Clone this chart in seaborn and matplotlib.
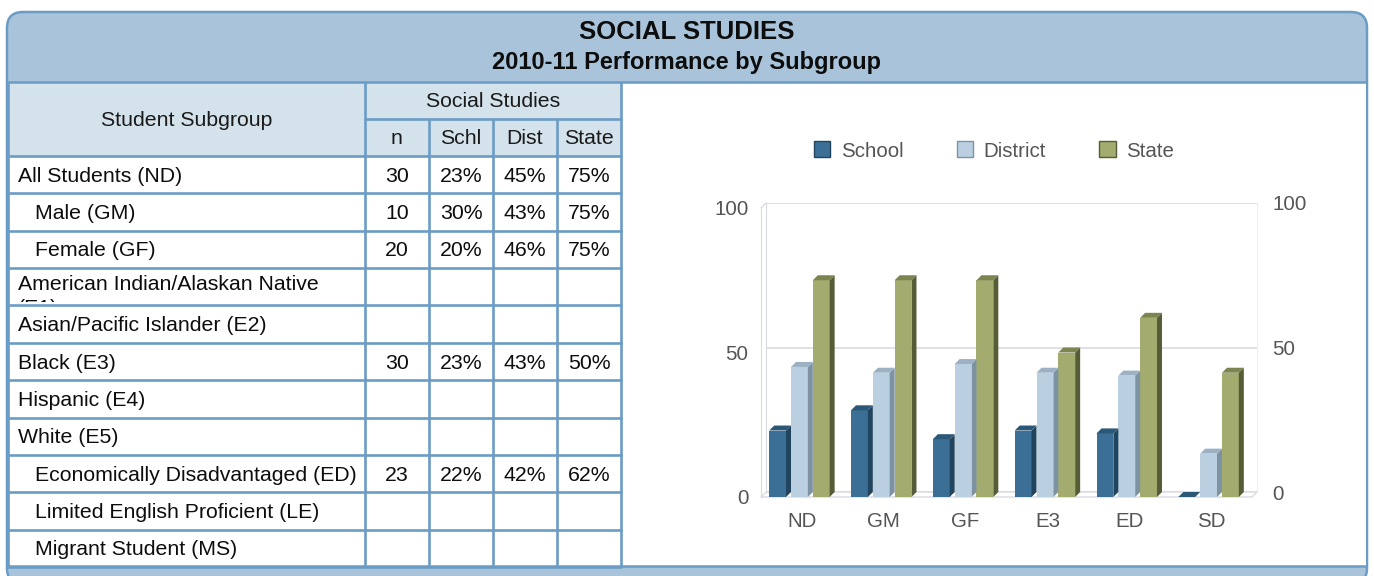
import numpy as np
import pandas as pd
import matplotlib
matplotlib.use('Agg')
import matplotlib.pyplot as plt
import seaborn as sns
from matplotlib import font_manager
from matplotlib.patches import FancyBboxPatch, Rectangle, Polygon, Patch

# table data
SUBGROUPS = ['All Students (ND)', 'Male (GM)', 'Female (GF)',
             'American Indian/Alaskan Native\n(E1)', 'Asian/Pacific Islander (E2)',
             'Black (E3)', 'Hispanic (E4)', 'White (E5)',
             'Economically Disadvantaged (ED)', 'Limited English Proficient (LE)',
             'Migrant Student (MS)']
INDENT = [0, 1, 1, 0, 0, 0, 0, 0, 1, 1, 1]
N_COUNT = ['30', '10', '20', '', '', '30', '', '', '23', '', '']
SCHL_PCT = ['23%', '30%', '20%', '', '', '23%', '', '', '22%', '', '']
DIST_PCT = ['45%', '43%', '46%', '', '', '43%', '', '', '42%', '', '']
STATE_PCT = ['75%', '75%', '75%', '', '', '50%', '', '', '62%', '', '']
SUB_HEADERS = ['n', 'Schl', 'Dist', 'State']

# chart data
CODES = ['ND', 'GM', 'GF', 'E3', 'ED', 'SD']
SCHOOL = [23, 30, 20, 23, 22, 0]
DISTRICT = [45, 43, 46, 43, 42, 15]
STATE = [75, 75, 75, 50, 62, 43]
SERIES = ['School', 'District', 'State']
Y_TICKS = [0, 50, 100]

# colours
FRONT = ['#3b6f96', '#bacfdf', '#a3ab6f']
SIDE = ['#21455f', '#7d93a4', '#565c36']
TOP = ['#2c5878', '#9cb2c4', '#7c8452']
BORDER = '#6b9cc5'
HEAD = '#a9c4da'
CELL_HEAD = '#d4e2ec'
GRID = '#d9dbe2'
AXTXT = '#555555'
INK = '#0d0d0d'

sns.set_style('white')
plt.rcParams['font.family'] = ['Liberation Sans', 'DejaVu Sans']

names = {f.name for f in font_manager.fontManager.ttflist}
if 'Liberation Sans Narrow' in names:
    CHART_FONT, CHART_SIZE = ['Liberation Sans Narrow', 'DejaVu Sans'], 17
else:
    CHART_FONT, CHART_SIZE = ['Liberation Sans', 'DejaVu Sans'], 14.8

W, H = 1374, 576
fig = plt.figure(figsize=(W / 100, H / 100), dpi=100)


def fig_rect(x0, y0, x1, y1):
    """像素框 -> figure 坐标"""
    return [x0 / W, 1 - y1 / H, (x1 - x0) / W, (y1 - y0) / H]


bg = fig.add_axes([0, 0, 1, 1])
bg.set_xlim(0, W); bg.set_ylim(H, 0); bg.axis('off')

# panel + header
bg.add_patch(FancyBboxPatch((7, 12), 1360, 572, boxstyle='round,pad=0,rounding_size=16',
                            fc=HEAD, ec=BORDER, lw=1.8))
bg.add_patch(Rectangle((8, 82), 1358, 484, fc='white', ec='none'))
bg.plot([8, 1366], [82, 82], color=BORDER, lw=1.8)
bg.plot([8, 1366], [566, 566], color=BORDER, lw=1.8)
bg.text(687, 32, 'SOCIAL STUDIES', ha='center', va='center', fontsize=18.5, weight='bold', color=INK)
bg.text(687, 63, '2010-11 Performance by Subgroup', ha='center', va='center',
        fontsize=17, weight='bold', color=INK)

# table
COL_X = [8, 365, 429, 493, 557, 621]
TOP_Y, MID_Y, BODY_Y, END_Y = 82, 119, 156, 567
ROW_H = (END_Y - BODY_Y) / len(SUBGROUPS)
TFS = 15.3
bg.add_patch(Rectangle((COL_X[0], TOP_Y), COL_X[-1] - COL_X[0], BODY_Y - TOP_Y, fc=CELL_HEAD, ec='none'))
lw = 1.9
for x in COL_X:
    y0 = MID_Y if x in COL_X[2:-1] else TOP_Y
    bg.plot([x, x], [y0, END_Y], color=BORDER, lw=lw, solid_capstyle='butt')
bg.plot([COL_X[1], COL_X[-1]], [MID_Y, MID_Y], color=BORDER, lw=lw)
for i in range(len(SUBGROUPS) + 1):
    y = BODY_Y + i * ROW_H
    bg.plot([COL_X[0], COL_X[-1]], [y, y], color=BORDER, lw=lw)
bg.text((COL_X[0] + COL_X[1]) / 2, (TOP_Y + BODY_Y) / 2 + 1, 'Student Subgroup', ha='center', va='center', fontsize=TFS, color='#1a1a1a')
bg.text((COL_X[1] + COL_X[-1]) / 2, (TOP_Y + MID_Y) / 2 + 1, 'Social Studies', ha='center', va='center', fontsize=TFS, color='#1a1a1a')
for j, lab in enumerate(SUB_HEADERS):
    bg.text((COL_X[j + 1] + COL_X[j + 2]) / 2, (MID_Y + BODY_Y) / 2 + 1, lab, ha='center', va='center', fontsize=TFS, color='#1a1a1a')

for i, lab in enumerate(SUBGROUPS):
    top = BODY_Y + i * ROW_H
    yc = top + ROW_H / 2 + 1.5
    x = 18 + 17 * INDENT[i]
    if '\n' in lab:
        # 单元格内换行，第二行被裁掉
        t = bg.text(x, top + 7, lab, ha='left', va='top', fontsize=TFS, color=INK, linespacing=1.3)
        t.set_clip_on(True)
        t.set_clip_path(Rectangle((COL_X[0], top), COL_X[1] - COL_X[0], ROW_H - 3, transform=bg.transData))
    else:
        bg.text(x, yc, lab, ha='left', va='center', fontsize=TFS, color=INK)
    for j, vals in enumerate([N_COUNT, SCHL_PCT, DIST_PCT, STATE_PCT]):
        if vals[i]:
            bg.text((COL_X[j + 1] + COL_X[j + 2]) / 2, yc, vals[i], ha='center', va='center', fontsize=TFS, color=INK)

# chart: back wall axes (grid + right labels) and front axes (bars)
DEPTH = 5
ax_back = fig.add_axes(fig_rect(766, 203, 1257, 492))
ax = fig.add_axes(fig_rect(761, 208, 1252, 497))
for a in (ax_back, ax):
    a.set_facecolor('none')
    a.set_ylim(0, 100)
    a.set_yticks(Y_TICKS)
    for s in a.spines.values():
        s.set_visible(False)

ax_back.set_xlim(0, 1); ax_back.set_xticks([])
ax_back.grid(axis='y', color=GRID, lw=1.2)
ax_back.spines['left'].set_visible(True); ax_back.spines['left'].set_color(GRID)
ax_back.spines['right'].set_visible(True); ax_back.spines['right'].set_color('#eceef2')
ax_back.yaxis.tick_right()
ax_back.tick_params(axis='y', length=0, pad=11, labelcolor=AXTXT, labelsize=CHART_SIZE)
for t in ax_back.get_yticklabels():
    t.set_family(CHART_FONT)

df = pd.DataFrame({
    'code': CODES * 3,
    'series': np.repeat(SERIES, len(CODES)),
    'value': SCHOOL + DISTRICT + STATE,
})
sns.barplot(data=df, x='code', y='value', hue='series', hue_order=SERIES, palette=FRONT,
            saturation=1, width=0.8, errorbar=None, ax=ax, legend=False)
ax.set_xlim(-0.5, len(CODES) - 0.5)
ax.set_xlabel(''); ax.set_ylabel('')
ax.spines['left'].set_visible(True); ax.spines['left'].set_color(GRID)
ax.tick_params(axis='y', length=0, pad=9, labelcolor=AXTXT, labelsize=CHART_SIZE)
ax.tick_params(axis='x', length=0, pad=11, labelcolor=AXTXT, labelsize=CHART_SIZE)
for t in ax.get_yticklabels() + ax.get_xticklabels():
    t.set_family(CHART_FONT)

# depth in data units
dx = DEPTH * len(CODES) / (1252 - 761)
dy = DEPTH * 100 / (497 - 208)
x0, x1 = ax.get_xlim()
ax.add_patch(Polygon([(x0, 0), (x1, 0), (x1 + dx, dy), (x0 + dx, dy)], closed=True,
                     fc='white', ec=GRID, lw=1, clip_on=False, zorder=0.5))
ax.plot([x0, x0 + dx], [100, 100 + dy], color=GRID, lw=1, clip_on=False)

for cont, sc, tc in zip(ax.containers, SIDE, TOP):
    for bar in cont:
        bx, h = bar.get_x(), bar.get_height()
        w = bar.get_width() - dx
        bar.set_width(w)
        bar.set_edgecolor('none')
        z = bar.get_zorder()
        ax.add_patch(Polygon([(bx + w, 0), (bx + w + dx, dy), (bx + w + dx, h + dy), (bx + w, h)],
                             closed=True, fc=sc, ec='none', clip_on=False, zorder=z))
        ax.add_patch(Polygon([(bx, h), (bx + dx, h + dy), (bx + w + dx, h + dy), (bx + w, h)],
                             closed=True, fc=tc, ec='none', clip_on=False, zorder=z))

handles = [Patch(facecolor=f, edgecolor=s, lw=1) for f, s in zip(FRONT, SIDE)]
leg = ax.legend(handles, SERIES, loc='center', bbox_to_anchor=(994 / W, 1 - 151 / H),
                bbox_transform=fig.transFigure, ncol=3, frameon=False,
                handlelength=0.8, handleheight=0.8, handletextpad=0.5, columnspacing=2.6,
                prop={'family': CHART_FONT, 'size': CHART_SIZE})
for t in leg.get_texts():
    t.set_color(AXTXT)

fig.savefig('out.png', dpi=100)
